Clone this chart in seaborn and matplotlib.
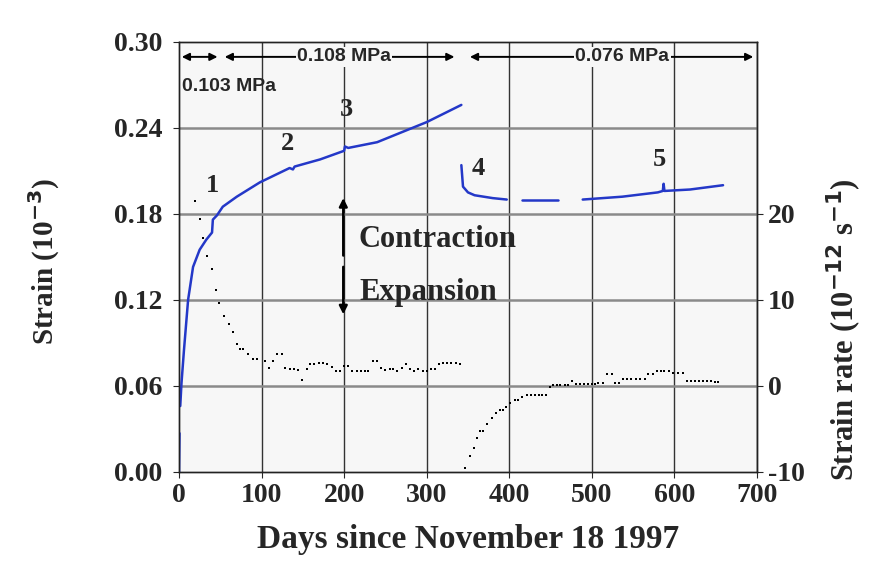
import seaborn as sns
import matplotlib.pyplot as plt
import numpy as np
import pandas as pd

sns.set_theme(style="ticks")
plt.rcParams['font.family'] = ['Liberation Serif', 'DejaVu Serif']
plt.rcParams['axes.unicode_minus'] = False

# Strain curve (blue), pieces separated so that gaps stay open
strain_piece = [0, 0,
                1, 1, 1, 1, 1, 1, 1, 1, 1, 1, 1, 1, 1, 1, 1, 1, 1, 1, 1, 1, 1, 1, 1, 1,
                2, 2, 2, 2, 2, 2,
                3, 3, 3,
                4, 4, 4, 4, 4, 4, 4, 4]
strain_days = [0, 0.6,
               1.5, 3, 6, 11, 17, 25, 33, 40, 41, 46, 53, 70, 98, 134, 138, 140, 171, 200, 201, 205, 240, 270, 300, 342,
               342, 344, 350, 358, 380, 397,
               415, 440, 459,
               489, 537, 580, 586, 587, 588, 619, 659]
strain_vals = [0.0, 0.027,
               0.046, 0.062, 0.085, 0.120, 0.143, 0.155, 0.162, 0.167, 0.176, 0.179, 0.185, 0.192, 0.202, 0.212,
               0.211, 0.213, 0.218, 0.224, 0.227, 0.226, 0.230, 0.237, 0.244, 0.256,
               0.214, 0.199, 0.195, 0.193, 0.191, 0.190,
               0.190, 0.190, 0.190,
               0.190, 0.192, 0.195, 0.196, 0.201, 0.196, 0.197, 0.200]

# Strain rate (black dots, right axis)
rate_days = [19, 25, 29, 34, 40, 45, 48, 54, 60, 65, 70, 74, 78, 83, 90, 94, 104, 109, 114, 119,
             125, 128, 134, 139, 144, 149, 155, 159, 164, 169, 174, 179, 185, 190, 195, 200, 205, 210, 215, 220,
             225, 229, 235, 240, 245, 250, 255, 259, 264, 270, 275, 280, 285, 290, 295, 300, 305, 310, 315, 320,
             325, 330, 336, 340,
             346, 352, 357, 361, 365, 368, 373, 379, 384, 389, 393, 396, 401, 407, 411, 415, 421, 426, 431, 436,
             440, 445, 449, 453, 458, 462, 467, 471, 476, 481, 486, 491, 495, 500, 504, 507, 513, 518, 524, 528,
             533, 538, 543, 548, 553, 558, 564, 568, 574, 579, 584, 588, 593, 598, 604, 610, 615, 620, 625, 630,
             635, 640, 645, 649, 653]
rate_vals = [21.5, 19.4, 17.2, 15.1, 13.6, 11.2, 9.7, 8.1, 7.2, 6.3, 4.9, 4.3, 4.3, 3.7, 3.1, 3.1, 2.9, 2.1, 2.9, 3.7,
             3.7, 2.1, 2.0, 2.0, 1.9, 0.7, 2.0, 2.5, 2.6, 2.7, 2.7, 2.5, 2.2, 1.7, 1.7, 2.3, 2.3, 1.7, 1.7, 1.7,
             1.7, 1.7, 2.9, 2.9, 2.1, 1.9, 2.0, 2.0, 1.7, 2.1, 2.6, 2.0, 1.7, 2.0, 1.7, 1.7, 2.0, 2.0, 2.6, 2.7,
             2.7, 2.7, 2.7, 2.6,
             -9.5, -8.1, -7.2, -6.1, -5.2, -5.2, -4.4, -3.7, -3.2, -2.8, -2.8, -2.4, -2.0, -1.6, -1.6, -1.3, -1.0, -1.0, -1.0, -1.0,
             -1.0, -1.0, -0.1, 0.1, 0.1, 0.1, 0.1, 0.1, 0.6, 0.2, 0.2, 0.2, 0.2, 0.2, 0.2, 0.4, 0.4, 1.4, 1.4, 0.4,
             0.4, 0.8, 0.8, 0.8, 0.8, 0.8, 0.8, 1.4, 1.4, 1.7, 1.7, 1.7, 1.7, 1.5, 1.5, 1.5, 0.6, 0.6, 0.6, 0.6,
             0.6, 0.6, 0.6, 0.5, 0.5]

point_labels = ["1", "2", "3", "4", "5"]
point_days = [40, 132, 203, 362, 582]
point_strain = [0.200, 0.229, 0.253, 0.212, 0.218]

stress_labels = ["0.103 MPa", "0.108 MPa", "0.076 MPa"]
stress_start = [0, 52, 349]
stress_end = [50, 337, 699]

strain_df = pd.DataFrame({"Days": strain_days, "Strain": strain_vals, "piece": strain_piece})
rate_df = pd.DataFrame({"Days": rate_days, "Rate": rate_vals})

fig = plt.figure(figsize=(8.69, 5.69), dpi=100)
ax = fig.add_axes([0.206, 0.1705, 0.665, 0.756])
ax.set_facecolor("#f7f7f7")
ax2 = ax.twinx()

sns.lineplot(data=strain_df, x="Days", y="Strain", units="piece", estimator=None,
             color="#2438c8", linewidth=1.8, ax=ax, zorder=3)
sns.scatterplot(data=rate_df, x="Days", y="Rate", marker="s", s=4, color="black",
                edgecolor=None, linewidth=0, ax=ax2, zorder=3)

ax.set_xlim(0, 700)
ax.set_ylim(0, 0.30)
ax.set_xticks(range(0, 701, 100))
ax.set_yticks(np.arange(0, 0.301, 0.06))
ax.set_yticklabels([f"{v:.2f}" for v in np.arange(0, 0.301, 0.06)])
ax2.set_ylim(-10, 40)
ax2.set_yticks([-10, 0, 10, 20])

# grid: dark vertical lines, gray horizontal lines
for x in range(100, 701, 100):
    ax.axvline(x, color="#333333", linewidth=1.0, zorder=1)
for y in np.arange(0.06, 0.30, 0.06):
    ax.axhline(y, color="#8a8a8a", linewidth=1.8, zorder=1)

for lab in ax.get_xticklabels() + ax.get_yticklabels() + ax2.get_yticklabels():
    lab.set_fontsize(20)
    lab.set_fontweight("bold")
ax.tick_params(axis="y", length=4, width=0.8, pad=8)
ax.tick_params(axis="x", length=4, width=0.8, pad=4)
ax2.tick_params(length=4, width=0.8, pad=4)
for a in (ax, ax2):
    for s in a.spines.values():
        s.set_linewidth(1.0)
        s.set_color("#222222")

ax.set_xlabel("Days since November 18 1997", fontsize=24, fontweight="bold")
ax.set_ylabel("Strain (10$^{\\mathbf{-3}}$)", fontsize=21, fontweight="bold")
ax2.set_ylabel("Strain rate (10$^{\\mathbf{-12}}$ s$^{\\mathbf{-1}}$)", fontsize=22, fontweight="bold")
ax.xaxis.set_label_coords(0.5, -0.122)
ax.yaxis.set_label_coords(-0.202, 0.49)
ax2.yaxis.set_label_coords(1.118, 0.33)

# numbered points
for lab, d, s in zip(point_labels, point_days, point_strain):
    ax.text(d, s, lab, ha="center", va="center", zorder=5, fontsize=19, fontweight="bold")

# contraction / expansion arrows
ax.annotate("", xy=(199, 0.193), xytext=(199, 0.149),
            arrowprops=dict(arrowstyle="-|>", color="black", lw=1.8, mutation_scale=12))
ax.annotate("", xy=(199, 0.108), xytext=(199, 0.145),
            arrowprops=dict(arrowstyle="-|>", color="black", lw=1.8, mutation_scale=12))
ax.text(217, 0.162, "Contraction", ha="left", va="center", fontsize=22, fontweight="bold")
ax.text(219, 0.125, "Expansion", ha="left", va="center", fontsize=22, fontweight="bold")

# stress periods along the top
sfont = dict(fontsize=14, fontweight="bold", family=["Liberation Sans", "DejaVu Sans"])
ytop = 0.2895
ax.annotate("", xy=(stress_start[0], ytop), xytext=(stress_end[0], ytop),
            arrowprops=dict(arrowstyle="<|-|>", color="black", lw=1.4, mutation_scale=11))
ax.text(4, 0.269, stress_labels[0], ha="left", va="center", **sfont)
for i, mid in ((1, 200), (2, 537)):
    ax.annotate("", xy=(stress_start[i], ytop), xytext=(stress_end[i], ytop),
                arrowprops=dict(arrowstyle="<|-|>", color="black", lw=1.4, mutation_scale=11))
    ax.text(mid, ytop, stress_labels[i], ha="center", va="center",
            bbox=dict(facecolor="#f7f7f7", edgecolor="none", pad=1.0), zorder=6, **sfont)

fig.savefig("out.png", dpi=100, facecolor="white")
